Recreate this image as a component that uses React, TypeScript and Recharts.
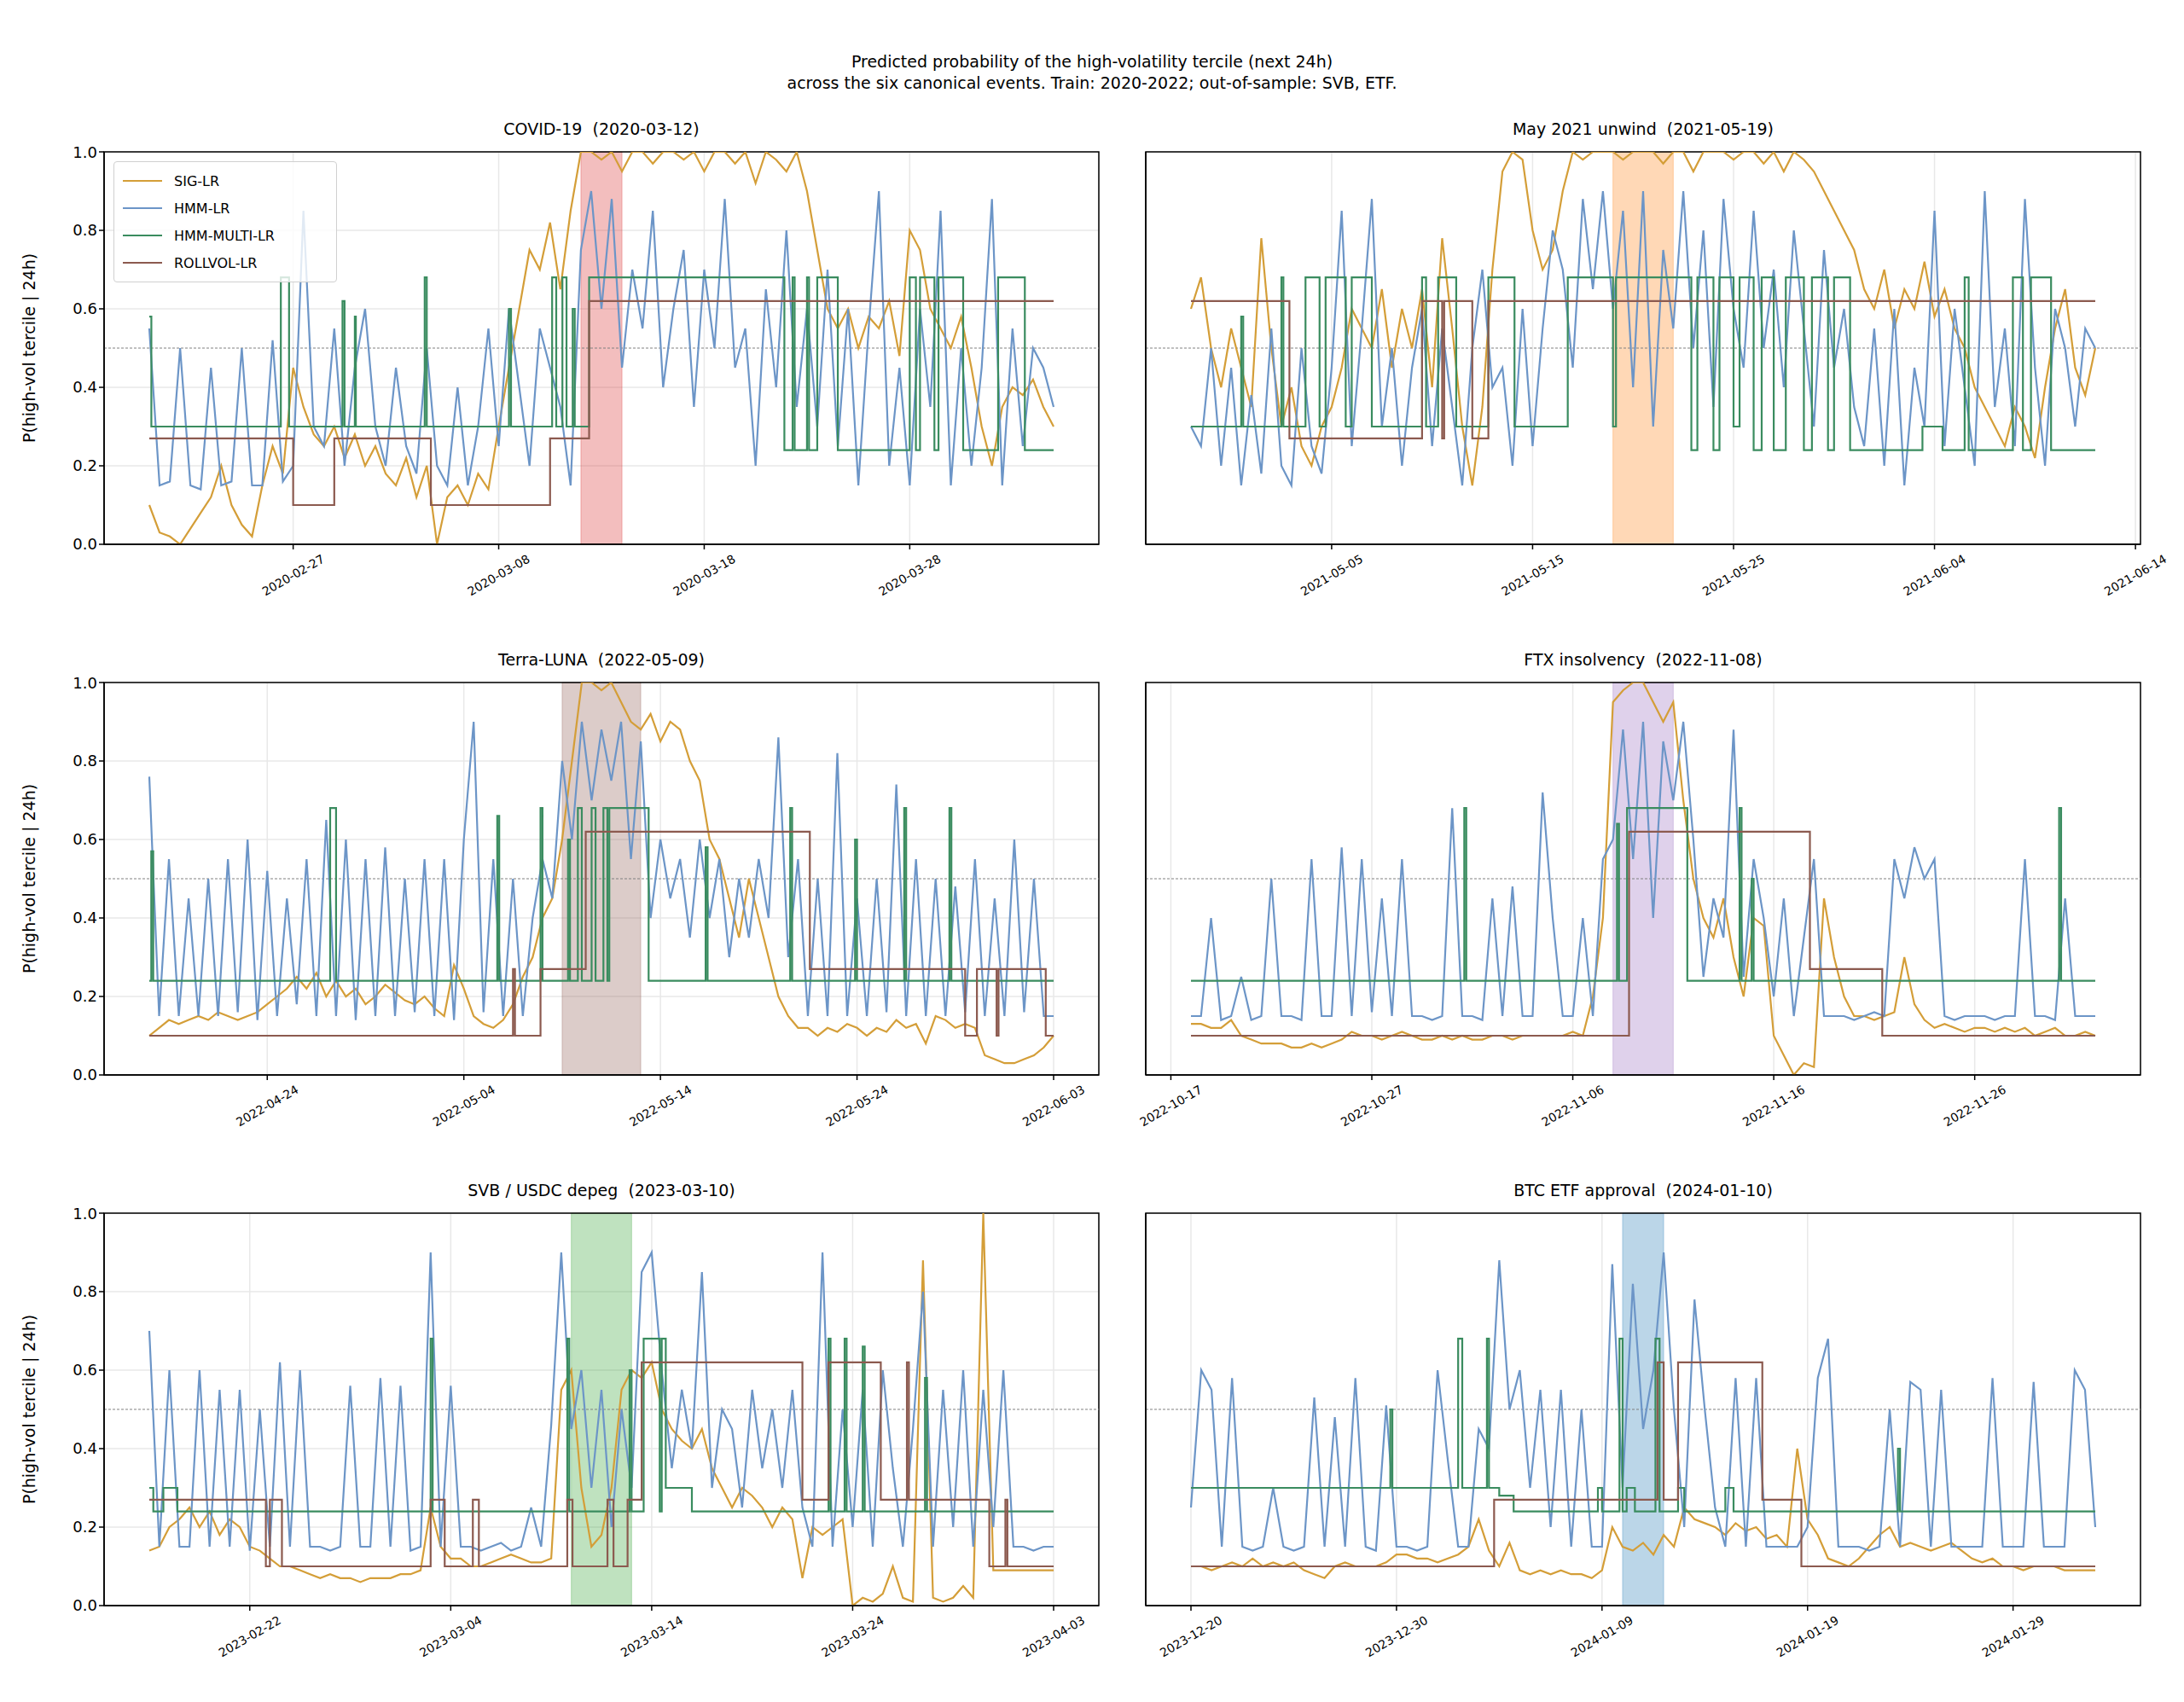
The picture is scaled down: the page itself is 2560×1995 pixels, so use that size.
import { LineChart, Line, XAxis, YAxis, CartesianGrid, ReferenceArea, ReferenceLine } from 'recharts';

// series values are percent, sampled every 12h from the start day (days relative to event)
const covidSig = [10,3,2,0,4,8,12,20,10,5,2,15,25,18,45, 35,28,25,30,22,28,20,25,18,15,22,12,20,0, 12,15,10,18,14,30,45,60,75,70,82,65, 85,100,100,98,100,95,100,100,97,100,100,98, 100,95,100,100,97,100,92,100,98,95,100,90,75,60, 55,60,50,58,55,62,48,80,75,60,55,50,58,45,30,20,35,40,38,42,35,30];
const covidHmm = [55,15,16,50,15,14,45,15,16,50,15,15,52,16,20, 85,30,25,55,20,45,60,30,20,45,25,18,50,20, 15,40,15,30,55,25,60,40,20,55,45,35, 15,75,90,60,88,45,70,55,85,40,60,75, 35,70,50,88,45,55,20,65,40,80,35,60,30,70, 25,60,15,55,90,20,45,15,60,35,85,15,50,20,45,88,15,55,25,50,45,35];
const covidMulti = [[-21,58],[-20.9,30],[-14.6,68],[-14.2,30],[-11.6,62],[-11.5,30],[-11.0,58],[-10.95,30],[-7.6,68],[-7.5,30],[-3.5,60],[-3.4,30],[-1.4,68],[-1.2,30],[-0.9,68],[-0.7,30],[-0.4,60],[-0.3,30],[0.4,68],[9.9,24],[10.3,68],[10.4,24],[11.0,68],[11.1,24],[11.5,68],[12.5,24],[16.0,68],[16.3,24],[16.5,68],[17.2,24],[17.4,68],[18.6,24],[20.3,68],[21.6,24],[23,24]];
const covidRoll = [[-21,27],[-14,10],[-12,27],[-7.3,10],[-1.5,27],[0.4,62],[23,62]];

const mayGSig = [60,68,50,40,55,45,35,78,50,30,40,25,20,30,35, 45,60,55,50,65,45,60,50,65,40,78,55,30,15, 35,70,95,100,98,80,70,75,90,100,98,100, 100,100,98,100,100,100,97,100,100,95,100,100, 100,98,100,100,97,100,95,100,98,95,90,85,80,75, 65,60,70,55,65,60,72,58,65,55,50,40,35,30,25,35,30,22,40,55,65,45,38,50];
const mayHmm = [30,25,50,20,45,15,38,18,55,20,15,50,25,18,45, 85,25,55,88,30,50,20,45,60,25,55,35,15,50, 70,40,45,20,60,25,55,80,70,45,88,65, 90,60,85,40,90,30,75,55,90,50,80,35, 88,60,45,85,50,70,40,80,55,30,75,45,60,35, 25,55,20,60,15,45,30,85,25,60,40,20,90,35,55,25,88,45,20,60,50,30,55,50];
const mayMulti = [[-21,30],[-18.5,58],[-18.4,30],[-16.5,68],[-16.4,30],[-15.3,68],[-14.6,30],[-14.3,68],[-13.3,30],[-13.0,68],[-12.0,30],[-9.5,68],[-9.3,30],[-8.7,68],[-7.8,30],[-6.2,68],[-4.9,30],[-2.25,68],[0,30],[0.15,68],[3.9,24],[4.2,68],[5.0,24],[5.3,68],[6.0,30],[6.3,68],[7.0,24],[7.4,68],[8.0,24],[8.6,68],[9.5,24],[9.9,68],[10.7,24],[11.0,68],[11.8,24],[15.4,30],[16.4,24],[17.5,68],[17.7,24],[19.9,68],[20.4,24],[20.8,68],[21.8,24],[24,24]];
const mayRoll = [[-21,62],[-16.1,27],[-9.5,62],[-8.5,27],[-8.4,62],[-7.0,27],[-6.2,62],[24,62]];

const lunaSig = [10,12,14,13,14,15,14,16,15,14,15,16,18,20,22, 25,22,26,20,24,20,22,18,20,23,21,19,18,20, 17,15,28,22,15,13,12,14,18,25,30,40, 45,60,80,100,100,98,100,95,90,88,92,85, 90,88,80,75,60,55,45,35,50,40,30,20,15,12, 12,10,12,11,13,12,10,12,11,14,12,13,8,15,14,12,13,12,5,4,3,3,4,5,7,10];
const lunaHmm = [76,15,55,15,45,15,50,15,55,16,60,14,52,15,45, 18,55,15,65,15,60,14,55,15,58,15,50,16,55, 15,55,14,60,90,16,55,15,50,15,40,55, 45,80,60,90,70,88,75,90,55,85,40,60, 45,55,35,60,40,55,30,50,35,55,40,86,30,55, 15,50,15,82,15,45,15,50,16,74,15,55,15,50,15,48,16,55,15,45,15,60,16,50,15,15];
const lunaMulti = [[-21,24],[-20.9,57],[-20.8,24],[-11.8,68],[-11.5,24],[-3.3,66],[-3.2,24],[-1.1,68],[-1.0,24],[0.3,60],[0.4,24],[0.8,68],[1.0,24],[1.5,68],[1.7,24],[2.1,68],[2.3,24],[2.4,68],[4.4,24],[7.3,58],[7.4,24],[11.6,68],[11.7,24],[14.9,60],[15.0,24],[17.4,68],[17.5,24],[19.7,68],[19.8,24],[25,24]];
const lunaRoll = [[-21,10],[-2.5,27],[-2.4,10],[-1.1,27],[1.2,62],[12.6,27],[20.5,10],[21.1,27],[22.1,10],[22.2,27],[24.6,10],[25,10]];

const ftxSig = [13,13,12,12,14,10,9,8,8,8,7,7,8,7,8, 9,11,10,10,9,10,11,10,9,9,10,9,10,9, 9,10,10,9,10,10,10,10,10,11,10,20, 40,95,98,100,100,95,90,95,70,50,40,35, 45,30,20,40,38,10,5,0,3,2,45,30,20,15, 15,14,15,16,30,18,14,12,13,12,11,12,12,11,12,11,12,10,11,12,10,10,11,10];
const ftxHmm = [15,15,40,14,15,25,14,15,50,15,15,14,55,15,15, 58,15,55,16,45,15,55,15,15,14,15,68,15,15, 14,45,15,48,15,15,72,40,15,15,40,15, 55,60,88,55,90,40,85,70,90,60,25,45, 35,88,25,55,40,20,45,15,35,55,15,15,15,14, 15,16,15,55,45,58,50,55,15,14,15,15,15,14,15,15,55,15,15,14,45,15,15,15];
const ftxMulti = [[-21,24],[-7.4,68],[-7.3,24],[0.2,64],[0.3,24],[0.7,68],[3.7,24],[6.3,68],[6.4,24],[6.9,50],[7.0,24],[22.2,68],[22.3,24],[24,24]];
const ftxRoll = [[-21,10],[0.8,62],[9.8,27],[13.4,10],[24,10]];

const svbSig = [14,15,20,22,25,20,24,18,22,20,15,14,12,10,10, 9,8,7,8,7,7,6,7,7,7,8,8,9,25, 15,12,12,10,10,11,12,13,12,11,11,12, 55,60,30,15,18,30,55,60,58,62,50,45, 42,40,45,35,30,25,30,28,25,20,25,22,7,20, 18,20,22,0,2,1,3,10,2,1,88,2,1,2,5,2,100,9,9,9,9,9,9,9];
const svbHmm = [70,15,60,15,15,60,15,55,15,55,14,50,15,62,15, 60,15,15,14,15,56,15,15,58,15,56,14,15,90, 15,56,15,15,14,15,16,14,15,25,15,46, 90,45,60,30,55,20,50,30,85,90,60,35, 55,40,85,30,50,45,25,55,35,50,30,55,25,15, 90,15,50,20,55,15,60,35,15,45,80,15,55,20,60,15,55,20,60,15,15,14,15,15];
const svbMulti = [[-21,30],[-20.8,24],[-20.3,30],[-19.6,24],[-7,68],[-6.9,24],[-0.2,68],[-0.1,24],[2.9,60],[3.0,24],[3.6,68],[4.4,24],[4.5,68],[4.7,30],[6.0,24],[12.8,68],[12.9,24],[13.6,68],[13.7,24],[14.5,66],[14.6,24],[17.6,58],[17.7,24],[24,24]];
const svbRoll = [[-21,27],[-15.2,10],[-15.0,27],[-14.4,10],[-7.0,27],[-6.3,10],[-4.9,27],[-4.6,10],[-0.2,27],[0.06,10],[1.8,27],[2.1,10],[2.8,27],[3.5,62],[11.5,27],[12.8,62],[15.4,27],[16.7,62],[16.8,27],[20.8,10],[21.6,27],[21.7,10],[24,10]];

const etfSig = [10,10,9,10,11,10,12,10,11,10,11,9,8,7,10, 11,10,10,10,11,13,13,12,12,11,12,13,15,22, 14,10,16,9,8,9,8,9,8,8,7,9, 20,15,14,16,13,18,15,25,22,21,20,18, 21,19,20,17,18,15,40,22,18,12,11,10,12,15, 18,20,15,16,15,14,15,16,14,12,11,12,10,10,9,10,10,10,9,9,9,9];
const etfHmm = [25,60,55,15,58,15,14,15,30,15,14,15,53,15,48, 15,58,15,14,51,15,15,14,15,60,37,15,15,45, 40,88,50,60,30,55,20,55,15,50,15,15, 87,30,82,45,60,90,50,20,78,50,25,15, 58,15,58,15,15,15,15,20,58,68,15,15,15,14, 15,50,15,57,55,15,55,15,15,15,15,58,15,15,15,57,15,15,15,60,55,20];
const etfMulti = [[-21,30],[-11.3,50],[-11.2,30],[-8.0,68],[-7.8,30],[-6.6,68],[-6.5,30],[-6.0,28],[-5.3,24],[-1.2,30],[-1.0,24],[-0.15,68],[0,24],[0.2,30],[0.6,24],[1.6,68],[1.8,24],[2.7,30],[3.0,24],[5.0,30],[5.4,24],[13.4,40],[13.5,24],[23,24]];
const etfRoll = [[-21,10],[-6.25,27],[1.7,62],[2.0,27],[2.7,62],[6.8,27],[8.7,10],[23,10]];

const covidTicks = [[-14,'2020-02-27'],[-4,'2020-03-08'],[6,'2020-03-18'],[16,'2020-03-28']];
const mayTicks = [[-14,'2021-05-05'],[-4,'2021-05-15'],[6,'2021-05-25'],[16,'2021-06-04'],[26,'2021-06-14']];
const lunaTicks = [[-15,'2022-04-24'],[-5,'2022-05-04'],[5,'2022-05-14'],[15,'2022-05-24'],[25,'2022-06-03']];
const ftxTicks = [[-22,'2022-10-17'],[-12,'2022-10-27'],[-2,'2022-11-06'],[8,'2022-11-16'],[18,'2022-11-26']];
const svbTicks = [[-16,'2023-02-22'],[-6,'2023-03-04'],[4,'2023-03-14'],[14,'2023-03-24'],[24,'2023-04-03']];
const etfTicks = [[-21,'2023-12-20'],[-11,'2023-12-30'],[-1,'2024-01-09'],[9,'2024-01-19'],[19,'2024-01-29']];

const C = { sig: '#d49e38', hmm: '#6c95c7', multi: '#3a8c5f', roll: '#8c5a4f' };

const panels = [
  { title: 'COVID-19  (2020-03-12)', sig: covidSig, hmm: covidHmm, multi: covidMulti, roll: covidRoll, ticks: covidTicks, end: 23, shade: 2, shadeColor: '#d62728', left: 122, top: 178 },
  { title: 'May 2021 unwind  (2021-05-19)', sig: mayGSig, hmm: mayHmm, multi: mayMulti, roll: mayRoll, ticks: mayTicks, end: 24, shade: 3, shadeColor: '#ff7f0e', left: 1343, top: 178 },
  { title: 'Terra-LUNA  (2022-05-09)', sig: lunaSig, hmm: lunaHmm, multi: lunaMulti, roll: lunaRoll, ticks: lunaTicks, end: 25, shade: 4, shadeColor: '#8c564b', left: 122, top: 800 },
  { title: 'FTX insolvency  (2022-11-08)', sig: ftxSig, hmm: ftxHmm, multi: ftxMulti, roll: ftxRoll, ticks: ftxTicks, end: 24, shade: 3, shadeColor: '#9467bd', left: 1343, top: 800 },
  { title: 'SVB / USDC depeg  (2023-03-10)', sig: svbSig, hmm: svbHmm, multi: svbMulti, roll: svbRoll, ticks: svbTicks, end: 24, shade: 3, shadeColor: '#2ca02c', left: 122, top: 1422 },
  { title: 'BTC ETF approval  (2024-01-10)', sig: etfSig, hmm: etfHmm, multi: etfMulti, roll: etfRoll, ticks: etfTicks, end: 23, shade: 2, shadeColor: '#1f77b4', left: 1343, top: 1422 },
];

const PW = 1166;
const PH = 460;
const YW = 110;
const RM = 50;
const FONT = '"DejaVu Sans", sans-serif';

const sampled = (vals: number[]) => vals.map((v, i) => ({ t: -21 + i * 0.5, v: v / 100 }));
const stepped = (pts: number[][]) => pts.map(([t, v]) => ({ t, v: v / 100 }));

function Panel({ p, idx }: { p: any; idx: number }) {
  const start = -21;
  const pad = (p.end - start) * 0.05;
  const lo = start - pad;
  const hi = p.end + pad;
  const labels = new Map(p.ticks.map((t: any) => [t[0], t[1]]));
  const showY = idx % 2 === 0;
  const XTick = (props: any) => {
    const { x, y, payload } = props;
    return (
      <g transform={`translate(${x},${y + 28}) rotate(-30)`}>
        <text textAnchor="middle" dominantBaseline="central" fontSize={14} fill="#000" fontFamily={FONT}>
          {labels.get(payload.value)}
        </text>
      </g>
    );
  };
  return (
    <div style={{ position: 'absolute', left: p.left - YW, top: p.top - 10 }}>
      <div style={{ position: 'absolute', left: YW, top: -28, width: PW, textAlign: 'center', fontSize: 19, fontFamily: FONT, whiteSpace: 'pre' }}>{p.title}</div>
      <LineChart width={PW + YW + RM} height={PH + 10 + 130} margin={{ top: 10, right: RM, left: 0, bottom: 0 }}>
        <CartesianGrid stroke="#e8e8e8" strokeWidth={1.5} />
        <XAxis type="number" dataKey="t" domain={[lo, hi]} ticks={p.ticks.map((t: any) => t[0])}
          tick={<XTick />} tickSize={6} height={130} stroke="#000" strokeWidth={1.5} allowDataOverflow />
        <YAxis type="number" domain={[0, 1]} ticks={[0, 0.2, 0.4, 0.6, 0.8, 1]} width={YW} tickSize={6} stroke="#000" strokeWidth={1.5}
          tick={showY ? { fontSize: 18, fill: '#000', fontFamily: FONT } : false}
          tickFormatter={(v: number) => v.toFixed(1)} allowDataOverflow
          label={showY ? { value: 'P(high-vol tercile | 24h)', angle: -90, position: 'insideLeft', offset: 22, style: { fontSize: 19, fill: '#000', fontFamily: FONT, textAnchor: 'middle' } } : undefined} />
        <ReferenceArea x1={0} x2={p.shade} y1={0} y2={1} fill={p.shadeColor} fillOpacity={0.3} stroke={p.shadeColor} strokeOpacity={0.3} />
        <ReferenceLine y={0.5} stroke="#808080" strokeDasharray="3 2" strokeWidth={1} />
        <Line data={sampled(p.sig)} dataKey="v" type="linear" stroke={C.sig} strokeWidth={2.2} dot={false} isAnimationActive={false} name="SIG-LR" />
        <Line data={sampled(p.hmm)} dataKey="v" type="linear" stroke={C.hmm} strokeWidth={2.2} dot={false} isAnimationActive={false} name="HMM-LR" />
        <Line data={stepped(p.multi)} dataKey="v" type="stepAfter" stroke={C.multi} strokeWidth={2.2} dot={false} isAnimationActive={false} name="HMM-MULTI-LR" />
        <Line data={stepped(p.roll)} dataKey="v" type="stepAfter" stroke={C.roll} strokeWidth={2.2} dot={false} isAnimationActive={false} name="ROLLVOL-LR" />
        <ReferenceArea x1={lo} x2={hi} y1={0} y2={1} fill="none" stroke="#000" strokeWidth={1.5} />
      </LineChart>
    </div>
  );
}

const legendItems = [['SIG-LR', C.sig], ['HMM-LR', C.hmm], ['HMM-MULTI-LR', C.multi], ['ROLLVOL-LR', C.roll]];

export default function App() {
  return (
    <div style={{ position: 'absolute', left: 0, top: 0, width: 2560, height: 1995, background: '#fff', fontFamily: FONT }}>
      <div style={{ position: 'absolute', top: 60, left: 0, width: 2560, textAlign: 'center', fontSize: 19, lineHeight: '25px' }}>
        Predicted probability of the high-volatility tercile (next 24h)<br />
        across the six canonical events. Train: 2020-2022; out-of-sample: SVB, ETF.
      </div>
      {panels.map((p, i) => <Panel key={i} p={p} idx={i} />)}
      <div style={{ position: 'absolute', left: 133, top: 189, width: 240, padding: '6px 10px', border: '1.5px solid #d0d0d0', borderRadius: 4, background: 'rgba(255,255,255,0.8)' }}>
        {legendItems.map(([name, color]) => (
          <div key={name} style={{ display: 'flex', alignItems: 'center', height: 32, fontSize: 16 }}>
            <span style={{ display: 'inline-block', width: 46, height: 2, background: color, marginRight: 14 }} />
            {name}
          </div>
        ))}
      </div>
    </div>
  );
}
